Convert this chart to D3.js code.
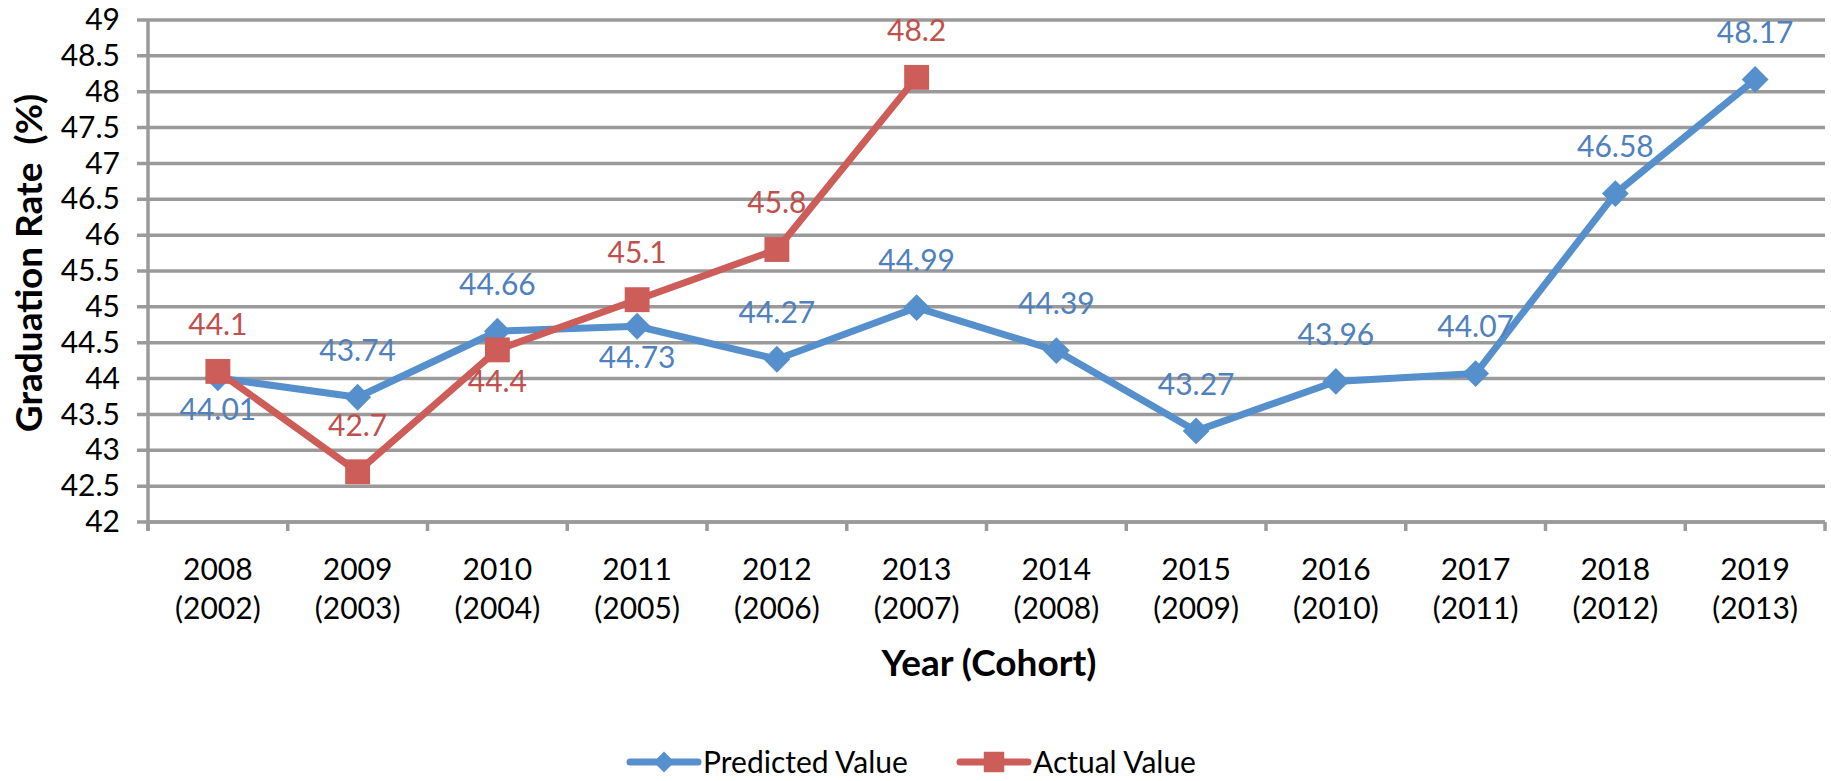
<!DOCTYPE html>
<html>
<head>
<meta charset="utf-8">
<script src="https://cdn.jsdelivr.net/npm/d3@7"></script>
<style>
body { margin: 0; background: #fff; }
svg text { font-family: Lato, "Open Sans", sans-serif; }
</style>
</head>
<body>
<svg id="chart" width="1831" height="781"></svg>
<script>
const years = ["2008", "2009", "2010", "2011", "2012", "2013", "2014", "2015", "2016", "2017", "2018", "2019"]
const cohorts = ["(2002)", "(2003)", "(2004)", "(2005)", "(2006)", "(2007)", "(2008)", "(2009)", "(2010)", "(2011)", "(2012)", "(2013)"]
const predicted = [44.01, 43.74, 44.66, 44.73, 44.27, 44.99, 44.39, 43.27, 43.96, 44.07, 46.58, 48.17]
const actual = [44.1, 42.7, 44.4, 45.1, 45.8, 48.2]
const yTicks = [42, 42.5, 43, 43.5, 44, 44.5, 45, 45.5, 46, 46.5, 47, 47.5, 48, 48.5, 49]

const BLUE = "#5690cc", BLUE_TEXT = "#4f81bd"
const RED = "#cc5d58", RED_TEXT = "#c0504d"
const GRID = "#9a9a9a"

// which side of the point Excel put each label
const predictedSide = ["below", "above", "above", "below", "above", "above", "above", "above", "above", "above", "above", "above"]
const actualSide = ["above", "above", "below", "above", "above", "above"]

const margin = {top: 20, right: 6, bottom: 259, left: 148},
    width = 1831 - margin.left - margin.right,
    height = 781 - margin.top - margin.bottom;

const x = d3.scaleBand().domain(years).range([0, width])
const y = d3.scaleLinear().domain([42, 49]).range([height, 0])
const cx = d => x(d) + x.bandwidth() / 2

const svg = d3.select("#chart")
    .append("g")
    .attr("transform", "translate(" + margin.left + "," + margin.top + ")");

// gridlines
svg.append("g")
    .selectAll("line")
    .data(yTicks)
    .join("line")
    .attr("x1", -11).attr("x2", width)
    .attr("y1", d => y(d)).attr("y2", d => y(d))
    .attr("stroke", GRID).attr("stroke-width", 3.5);

// y axis labels
const yAxis = svg.append("g")
    .call(d3.axisLeft(y).tickValues(yTicks).tickSize(0).tickPadding(28).tickFormat(d3.format("")));
yAxis.select(".domain").remove();
yAxis.selectAll("text").style("font-size", "30px").attr("fill", "#000");

// axis lines
svg.append("line")
    .attr("x1", 0).attr("x2", 0).attr("y1", 0).attr("y2", height + 9)
    .attr("stroke", GRID).attr("stroke-width", 3.5);
svg.append("line")
    .attr("x1", 0).attr("x2", width).attr("y1", height).attr("y2", height)
    .attr("stroke", GRID).attr("stroke-width", 3.5);
svg.append("g")
    .selectAll("line")
    .data(d3.range(years.length + 1))
    .join("line")
    .attr("x1", i => i * x.step()).attr("x2", i => i * x.step())
    .attr("y1", height).attr("y2", height + 9)
    .attr("stroke", GRID).attr("stroke-width", 3.5);

// category labels, two lines each
const xLabels = svg.append("g")
    .selectAll("text")
    .data(years)
    .join("text")
    .attr("text-anchor", "middle")
    .style("font-size", "30px")
    .attr("fill", "#000");
xLabels.append("tspan")
    .attr("x", d => cx(d)).attr("y", height + 58)
    .text(d => d);
xLabels.append("tspan")
    .attr("x", d => cx(d)).attr("y", height + 97)
    .text((d, i) => cohorts[i]);

// axis titles
svg.append("text")
    .attr("x", 841).attr("y", 656)
    .attr("text-anchor", "middle")
    .style("font-size", "37px").style("font-weight", "bold")
    .text("Year (Cohort)");

svg.append("text")
    .attr("transform", "translate(" + (-106) + "," + 243 + ") rotate(-90)")
    .attr("text-anchor", "middle")
    .style("font-size", "37px").style("font-weight", "bold")
    .style("white-space", "pre")
    .text("Graduation Rate  (%)");

// series
const line = d3.line()
    .x((d, i) => cx(years[i]))
    .y(d => y(d));

function drawSeries(values, color, textColor, sides, symbol, size)
{
    svg.append("path")
        .datum(values)
        .attr("fill", "none")
        .attr("stroke", color)
        .attr("stroke-width", 7)
        .attr("stroke-linejoin", "round")
        .attr("d", line);

    svg.append("g")
        .selectAll("path")
        .data(values)
        .join("path")
        .attr("d", d3.symbol().type(d3.symbolSquare).size(size))
        .attr("transform", (d, i) => "translate(" + cx(years[i]) + "," + y(d) + ")" + (symbol === "diamond" ? " rotate(45)" : ""))
        .attr("fill", color);

    svg.append("g")
        .selectAll("text")
        .data(values)
        .join("text")
        .attr("x", (d, i) => cx(years[i]))
        .attr("y", (d, i) => y(d) + (sides[i] === "above" ? -47 : 31))
        .attr("dy", "0.36em")
        .attr("text-anchor", "middle")
        .style("font-size", "30px")
        .attr("fill", textColor)
        .text(d => d);
}

drawSeries(predicted, BLUE, BLUE_TEXT, predictedSide, "diamond", 360);
drawSeries(actual, RED, RED_TEXT, actualSide, "square", 620);

// legend
const legend = svg.append("g")
    .attr("transform", "translate(0," + 742 + ")");
const items = [
    {name: "Predicted Value", color: BLUE, symbol: "diamond", x0: 482},
    {name: "Actual Value", color: RED, symbol: "square", x0: 812}
];
items.forEach(item =>
{
    legend.append("line")
        .attr("x1", item.x0).attr("x2", item.x0 + 68)
        .attr("stroke", item.color).attr("stroke-width", 7)
        .attr("stroke-linecap", "round");
    legend.append("path")
        .attr("d", d3.symbol().type(d3.symbolSquare).size(item.symbol === "diamond" ? 220 : 420))
        .attr("transform", "translate(" + (item.x0 + 34) + ",0)" + (item.symbol === "diamond" ? " rotate(45)" : ""))
        .attr("fill", item.color);
    legend.append("text")
        .attr("x", item.x0 + 73)
        .attr("dy", "0.36em")
        .style("font-size", "30px")
        .text(item.name);
});
</script>
</body>
</html>
